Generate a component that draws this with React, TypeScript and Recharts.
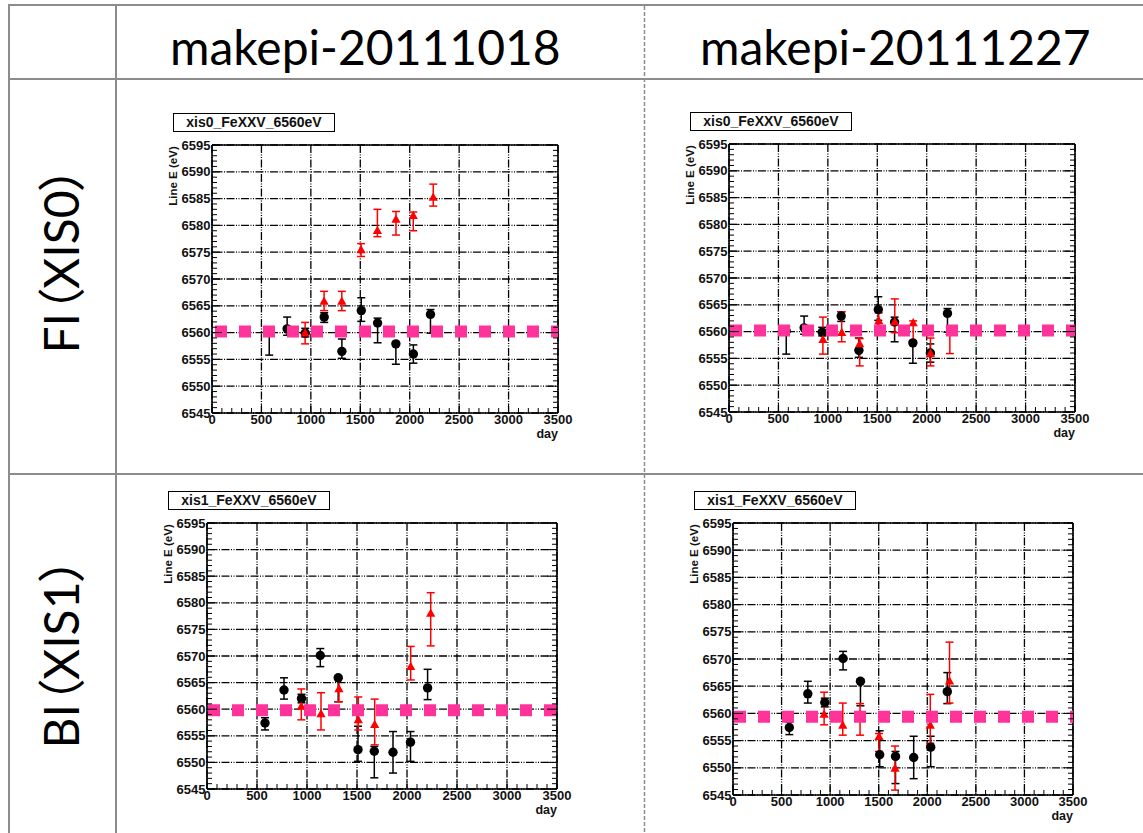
import React from "react";
import { ScatterChart, Scatter, XAxis, YAxis, CartesianGrid, ErrorBar } from "recharts";

// [day, line E, lower end of error bar, upper end of error bar]
type Pt = [number, number, number, number];

const columnTitles = ["makepi-20111018", "makepi-20111227"];
const rowTitles = ["FI（XIS0）", "BI（XIS1）"];
const panelTitles = ["xis0_FeXXV_6560eV", "xis1_FeXXV_6560eV"];

const xMajor = [0, 500, 1000, 1500, 2000, 2500, 3000, 3500];
const yMajor = [6545, 6550, 6555, 6560, 6565, 6570, 6575, 6580, 6585, 6590, 6595];
const xMinor: number[] = [];
for (let d = 0; d <= 3500; d += 100) xMinor.push(d);
const yMinor: number[] = [];
for (let e = 6545; e <= 6595; e += 1) yMinor.push(e);

// black circles (reference)
const refXis0: Pt[] = [
  [579, 6560.1, 6555.8, 6561],
  [760, 6560.7, 6559.5, 6562.9],
  [943, 6559.9, 6559.2, 6560.8],
  [1135, 6562.9, 6561.9, 6563.7],
  [1314, 6556.5, 6555.2, 6558.8],
  [1510, 6564.1, 6562.1, 6566.5],
  [1675, 6561.8, 6558.1, 6562.7],
  [1860, 6557.9, 6554.1, 6558.2],
  [2037, 6556.0, 6554.3, 6557.7],
  [2210, 6563.4, 6559.9, 6564.3],
];

// red triangles, xis0
const redXis0_1018: Pt[] = [
  [942, 6559.9, 6557.9, 6561.9],
  [1134, 6565.8, 6564.1, 6567.7],
  [1313, 6565.8, 6564.1, 6567.7],
  [1508, 6575.4, 6574.2, 6576.6],
  [1673, 6579.0, 6577.9, 6583.0],
  [1861, 6581.1, 6578.2, 6582.6],
  [2036, 6581.8, 6579.0, 6582.5],
  [2238, 6585.2, 6583.6, 6587.7],
];
const redXis0_1227: Pt[] = [
  [950, 6558.5, 6555.8, 6562.7],
  [1140, 6559.8, 6558.1, 6563.7],
  [1322, 6557.7, 6553.6, 6558.7],
  [1515, 6562.0, 6560.0, 6563.5],
  [1677, 6561.8, 6559.8, 6566.1],
  [1863, 6561.6, 6557.8, 6562.0],
  [2038, 6555.9, 6553.6, 6558.8],
  [2234, 6560.0, 6555.9, 6560.8],
];

// black circles (reference), xis1
const refXis1: Pt[] = [
  [580, 6557.4, 6556.1, 6558.4],
  [770, 6563.6, 6561.9, 6565.9],
  [945, 6562.0, 6561.2, 6562.8],
  [1133, 6570.1, 6568.0, 6571.4],
  [1312, 6565.9, 6561.4, 6566.3],
  [1510, 6552.4, 6550.2, 6556.8],
  [1673, 6552.1, 6547.1, 6553.0],
  [1860, 6551.9, 6548.0, 6555.8],
  [2035, 6553.8, 6550.2, 6555.8],
  [2206, 6564.0, 6561.8, 6567.5],
];

const redXis1_1018: Pt[] = [
  [943, 6560.5, 6558.0, 6563.8],
  [1140, 6559.1, 6556.1, 6563.1],
  [1320, 6563.8, 6561.4, 6565.8],
  [1513, 6558.0, 6556.1, 6562.3],
  [1677, 6557.1, 6553.3, 6561.9],
  [2037, 6568.0, 6565.5, 6571.8],
  [2237, 6578.0, 6571.9, 6581.9],
];
const redXis1_1227: Pt[] = [
  [938, 6559.8, 6557.9, 6563.9],
  [1130, 6557.8, 6556.0, 6561.9],
  [1308, 6559.7, 6556.0, 6561.8],
  [1503, 6555.7, 6553.0, 6556.3],
  [1668, 6549.9, 6545.9, 6554.0],
  [2031, 6557.8, 6554.5, 6563.5],
  [2229, 6565.9, 6561.9, 6573.1],
];

// pink dashed guide at 6560 eV, as drawn in each panel
const pinkLevels = [6560.2, 6560.2, 6559.8, 6559.4];

const toRows = (pts: Pt[]) => pts.map(([x, y, lo, hi]) => ({ x, y, err: [y - lo, hi - y] }));

const PINK = "#ff3399";
const TICK_FONT = "'Liberation Sans', Arial, sans-serif";

const BottomTick = (props: any) => {
  const { x, y, payload } = props;
  const major = payload.value % 500 === 0;
  return (
    <g>
      <line x1={x} x2={x} y1={y} y2={y - (major ? 9 : 5)} stroke="#000" />
      {major && (
        <text x={x} y={y + 2} dy="0.72em" textAnchor="middle" fontFamily={TICK_FONT} fontWeight="bold" fontSize={13} fill="#111">
          {payload.value}
        </text>
      )}
    </g>
  );
};

const TopTick = (props: any) => {
  const { x, y, payload } = props;
  const major = payload.value % 500 === 0;
  return <line x1={x} x2={x} y1={y} y2={y + (major ? 9 : 5)} stroke="#000" />;
};

const LeftTick = (props: any) => {
  const { x, y, payload } = props;
  const major = payload.value % 5 === 0;
  return (
    <g>
      <line x1={x} x2={x + (major ? 10 : 5)} y1={y} y2={y} stroke="#000" />
      {major && (
        <text x={x - 1.5} y={y} dy="0.36em" textAnchor="end" fontFamily={TICK_FONT} fontWeight="bold" fontSize={13} fill="#111">
          {payload.value}
        </text>
      )}
    </g>
  );
};

const RightTick = (props: any) => {
  const { x, y, payload } = props;
  const major = payload.value % 5 === 0;
  return <line x1={x} x2={x - (major ? 10 : 5)} y1={y} y2={y} stroke="#000" />;
};

const Dot = (props: any) => <circle cx={props.cx} cy={props.cy} r={4.7} fill="#000" />;
const Tri = (props: any) => {
  const { cx, cy } = props;
  return <polygon points={`${cx},${cy - 5} ${cx - 4.6},${cy + 3.3} ${cx + 4.6},${cy + 3.3}`} fill="#ff0000" />;
};
const Nothing = () => <g />;

type PanelDef = {
  left: number;
  top: number;
  w: number;
  h: number;
  title: string;
  black: Pt[];
  red: Pt[];
  pink: number;
  phase: number;
};

const frame = { stroke: "#000", strokeWidth: 1.6 };

const Panel = ({ p }: { p: PanelDef }) => {
  // plot area starts 60px right of and 10px below the chart corner
  const W = 60 + p.w + 21;
  const H = 10 + p.h + 40;
  const pinkRows = [
    { x: xMajor[0], y: p.pink },
    { x: xMajor[xMajor.length - 1], y: p.pink },
  ];
  return (
    <>
      <div style={{ position: "absolute", left: p.left - 60, top: p.top - 10 }}>
        <ScatterChart width={W} height={H} margin={{ top: 9, right: 20, bottom: 0, left: 0 }}>
          <CartesianGrid
            xAxisId="b"
            yAxisId="l"
            horizontalValues={yMajor}
            verticalValues={xMajor}
            stroke="#000"
            strokeWidth={1.3}
            strokeDasharray="8 1.5 1 1.5 1 1.5"
          />
          <XAxis
            xAxisId="b"
            dataKey="x"
            type="number"
            domain={[0, 3500]}
            allowDataOverflow
            ticks={xMinor}
            interval={0}
            height={40}
            tickSize={0}
            tickMargin={0}
            tickLine={false}
            axisLine={frame}
            tick={BottomTick}
          />
          <XAxis
            xAxisId="t"
            orientation="top"
            type="number"
            domain={[0, 3500]}
            allowDataOverflow
            ticks={xMinor}
            interval={0}
            height={1}
            tickSize={0}
            tickMargin={0}
            tickLine={false}
            axisLine={frame}
            tick={TopTick}
          />
          <YAxis
            yAxisId="l"
            dataKey="y"
            type="number"
            domain={[6545, 6595]}
            allowDataOverflow
            ticks={yMinor}
            interval={0}
            width={60}
            tickSize={0}
            tickMargin={0}
            tickLine={false}
            axisLine={frame}
            tick={LeftTick}
          />
          <YAxis
            yAxisId="r"
            orientation="right"
            type="number"
            domain={[6545, 6595]}
            allowDataOverflow
            ticks={yMinor}
            interval={0}
            width={1}
            tickSize={0}
            tickMargin={0}
            tickLine={false}
            axisLine={frame}
            tick={RightTick}
          />
          <Scatter xAxisId="b" yAxisId="l" data={toRows(p.black)} shape={Dot} isAnimationActive={false}>
            <ErrorBar dataKey="err" direction="y" width={4} stroke="#000" strokeWidth={1.5} isAnimationActive={false} />
          </Scatter>
          <Scatter xAxisId="b" yAxisId="l" data={toRows(p.red)} shape={Tri} isAnimationActive={false}>
            <ErrorBar dataKey="err" direction="y" width={4} stroke="#ff0000" strokeWidth={1.5} isAnimationActive={false} />
          </Scatter>
          <Scatter
            xAxisId="b"
            yAxisId="l"
            data={pinkRows}
            shape={Nothing}
            line={{ stroke: PINK, strokeWidth: 12, strokeDasharray: `0 ${p.phase} 12 ${12 - p.phase}` }}
            isAnimationActive={false}
          />
        </ScatterChart>
      </div>
      <div
        style={{
          position: "absolute",
          left: p.left - 39,
          top: p.top - 32,
          width: 162,
          height: 19,
          boxSizing: "border-box",
          border: "1px solid #000",
          background: "#fff",
          fontFamily: TICK_FONT,
          fontWeight: "bold",
          fontSize: 14,
          lineHeight: "17px",
          textAlign: "center",
          color: "#111",
        }}
      >
        {p.title}
      </div>
      <div
        style={{
          position: "absolute",
          left: p.left - 39,
          top: p.top + 31,
          transform: "translate(-50%, -50%) rotate(-90deg)",
          whiteSpace: "nowrap",
          fontFamily: TICK_FONT,
          fontWeight: "bold",
          fontSize: 11.5,
          color: "#111",
        }}
      >
        Line E (eV)
      </div>
      <div
        style={{
          position: "absolute",
          left: p.left + p.w - 60,
          width: 60,
          top: p.top + p.h + 15,
          textAlign: "right",
          fontFamily: TICK_FONT,
          fontWeight: "bold",
          fontSize: 12.5,
          lineHeight: "13px",
          color: "#111",
        }}
      >
        day
      </div>
    </>
  );
};

const panels: PanelDef[] = [
  { left: 212, top: 145, w: 346, h: 268, title: panelTitles[0], black: refXis0, red: redXis0_1018, pink: pinkLevels[0], phase: 3 },
  { left: 729, top: 144, w: 346, h: 268, title: panelTitles[0], black: refXis0, red: redXis0_1227, pink: pinkLevels[1], phase: 1 },
  { left: 207, top: 523, w: 350, h: 266, title: panelTitles[1], black: refXis1, red: redXis1_1018, pink: pinkLevels[2], phase: 1 },
  { left: 733, top: 523, w: 340, h: 272, title: panelTitles[1], black: refXis1, red: redXis1_1227, pink: pinkLevels[3], phase: 1 },
];

const HEAD_FONT = "Lato, 'Noto Sans CJK JP', sans-serif";
const GRAY = "#8c8c8c";

export default function App() {
  return (
    <div style={{ position: "absolute", left: 0, top: 0, width: 1143, height: 833, overflow: "hidden", background: "#fff" }}>
      <svg width={1143} height={833} style={{ position: "absolute", left: 0, top: 0 }}>
        <line x1={8} x2={1143} y1={5} y2={5} stroke={GRAY} strokeWidth={2} />
        <line x1={9} x2={9} y1={4} y2={833} stroke={GRAY} strokeWidth={2} />
        <line x1={116} x2={116} y1={4} y2={833} stroke={GRAY} strokeWidth={2} />
        <line x1={8} x2={1143} y1={79} y2={79} stroke={GRAY} strokeWidth={2} />
        <line x1={8} x2={1143} y1={474} y2={474} stroke={GRAY} strokeWidth={2} />
        <line x1={644.5} x2={644.5} y1={6} y2={833} stroke={GRAY} strokeWidth={1.5} strokeDasharray="4 2" />
      </svg>
      <div style={{ position: "absolute", left: 170, top: 23, fontFamily: HEAD_FONT, fontSize: 48, lineHeight: "48px", whiteSpace: "nowrap" }}>
        {columnTitles[0]}
      </div>
      <div style={{ position: "absolute", left: 700, top: 23, fontFamily: HEAD_FONT, fontSize: 48, lineHeight: "48px", whiteSpace: "nowrap" }}>
        {columnTitles[1]}
      </div>
      {rowTitles.map((t, i) => (
        <div
          key={t}
          style={{
            position: "absolute",
            left: 61,
            top: i === 0 ? 260 : 653,
            transform: "translate(-50%, -50%) rotate(-90deg)",
            fontFamily: HEAD_FONT,
            fontSize: 48,
            lineHeight: "48px",
            whiteSpace: "nowrap",
            fontFeatureSettings: "'palt'",
          }}
        >
          {t}
        </div>
      ))}
      {panels.map((p, i) => (
        <Panel key={i} p={p} />
      ))}
    </div>
  );
}
